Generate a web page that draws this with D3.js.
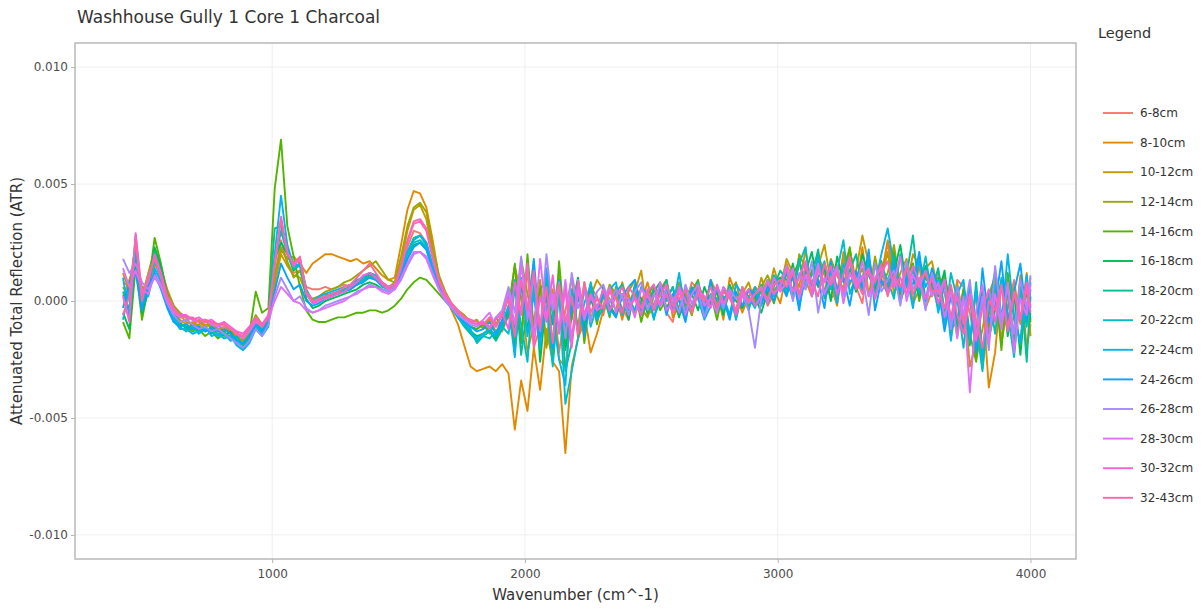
<!DOCTYPE html>
<html>
<head>
<meta charset="utf-8">
<script src="https://cdn.jsdelivr.net/npm/d3@7"></script>
<style>
  body { margin: 0; background: #fff; }
  text { font-family: "DejaVu Sans", Verdana, sans-serif; }
</style>
</head>
<body>
<svg id="chart"></svg>
<script>
// wavenumber grid (cm^-1) shared by every spectrum
const wavenumbers = [410,435,460,485,510,535,560,585,610,635,
  660,685,710,735,760,785,810,835,860,885,
  910,935,960,985,1010,1035,1060,1085,1110,1135,
  1160,1185,1210,1235,1260,1285,1310,1335,1360,1385,
  1410,1435,1460,1485,1510,1535,1560,1585,1610,1635,
  1660,1685,1710,1735,1760,1785,1810,1835,1860,1885,1910,
  1935,1960,1985,2010,2035,2060,2085,2110,2135,2160,2185,2210,2235,2260,2285,
  2310,2335,2360,2385,2410,2435,2460,2485,2510,2535,2560,2585,2610,2635,2660,2685,2710,2735,2760,2785,2810,2835,2860,2885,2910,
  2935,2960,2985,3010,
  3035,3060,3085,3110,3135,3160,3185,3210,3235,3260,3285,3310,3335,3360,3385,3410,3435,3460,3485,3510,3535,3560,3585,3610,
  3635,3660,3685,3710,
  3735,3760,3785,3810,3835,
  3860,3885,3910,3935,3960,3985,4000];

const depths = ["6-8cm","8-10cm","10-12cm","12-14cm","14-16cm","16-18cm","18-20cm",
  "20-22cm","22-24cm","24-26cm","26-28cm","28-30cm","30-32cm","32-43cm"];

// ATR values, in units of 10^-3
const atr_6_8 = [0.8,0.6,2.0,0.3,1.0,1.8,1.1,0.2,-0.4,-0.7,
  -0.7,-0.8,-1.1,-0.9,-0.9,-1.2,-1.1,-1.3,-1.5,-1.6,
  -1.3,-0.9,-1.2,-0.8,1.0,2.6,1.6,1.2,1.3,0.6,
  0.5,0.5,0.6,0.5,0.6,0.7,0.6,0.8,1.0,1.1,
  0.9,0.7,0.6,0.8,1.4,2.3,3.0,2.9,2.5,1.5,
  0.7,0.2,-0.2,-0.6,-0.9,-1.1,-1.2,-1.0,-1.4,-0.9,-1.3,
  -0.6,-1.8,-0.2,1.2,-2.0,-1.1,0.8,0.3,-2.2,-0.4,1.0,-1.6,-0.9,0.6,0.2,
  -0.6,0.5,0.2,-0.3,-0.8,0.7,0.1,-0.4,0.6,0.3,-0.5,-0.9,0.4,-0.2,0.8,0.5,-0.6,0.1,-0.3,0.6,0.2,-0.7,0.4,-0.2,0.3,
  0.6,-0.2,0.3,0.8,
  1.6,0.9,0.2,1.4,0.5,1.8,1.1,0.1,0.4,2.0,1.2,0.6,-0.1,1.9,0.5,1.1,2.5,0.8,0.2,1.5,-0.2,1.7,1.0,0.6,
  1.2,0.3,-0.8,0.9,
  0.6,-0.5,-2.0,0.4,-1.5,
  0.8,-1.6,-0.3,0.9,-1.0,0.5,-0.6];

const atr_8_10 = [1.2,0.4,1.6,0.5,0.8,1.5,1.4,0.5,-0.2,-0.6,
  -0.9,-1.0,-0.8,-1.1,-1.0,-1.3,-1.2,-1.4,-1.6,-1.7,
  -1.4,-1.0,-1.3,-0.9,0.6,2.2,1.8,1.9,1.6,1.2,
  1.6,1.8,2.0,2.0,1.9,1.8,1.7,1.8,1.6,1.7,
  1.4,1.1,0.9,1.0,2.4,3.9,4.7,4.6,4.0,2.6,
  1.0,0.2,-0.4,-1.0,-1.9,-2.8,-3.0,-2.9,-2.8,-3.0,-2.7,
  -3.1,-5.5,-3.4,-4.7,-2.0,-3.8,-1.2,-2.6,-3.0,-6.5,-2.8,-1.6,-0.5,-2.2,-1.4,
  -0.4,0.6,0.2,-0.8,0.3,-0.5,-0.1,0.8,-0.3,0.5,0.9,-0.7,-0.2,0.3,-0.6,0.7,0.1,-0.2,0.4,-0.8,1.0,0.3,-0.5,0.2,0.6,
  0.3,0.9,0.5,-0.1,
  1.2,0.4,1.7,0.9,0.2,1.9,1.3,0.7,-0.2,2.1,1.6,0.5,2.3,0.3,0.8,1.0,2.6,1.4,0.1,0.6,2.0,1.5,-0.3,0.4,
  0.7,1.1,-1.2,-0.9,
  0.5,-2.8,-1.8,0.2,-3.7,
  -2.2,0.8,0.1,-1.5,1.1,-2.0,-1.0];

const atr_10_12 = [0.2,0.9,1.8,0.6,0.5,1.9,1.0,0.1,-0.5,-0.8,
  -1.0,-0.9,-1.2,-1.0,-1.1,-1.0,-1.3,-1.2,-1.6,-1.5,
  -1.1,-0.7,-1.2,-0.9,0.8,2.0,1.5,1.1,1.0,0.3,
  0.1,0.2,0.3,0.2,0.4,0.5,0.5,0.7,0.9,1.2,
  1.1,0.8,0.6,0.7,1.6,3.0,3.9,4.1,3.5,2.0,
  0.9,0.3,-0.2,-0.5,-0.7,-0.9,-1.0,-1.1,-0.8,-1.3,-0.9,
  -0.3,1.5,0.2,-2.2,-1.0,0.9,-1.8,0.5,-2.5,-2.8,-0.6,0.7,-1.4,0.2,0.9,
  0.5,0.1,-0.4,0.8,-0.2,0.4,1.3,-0.6,-0.3,0.6,0.2,-0.5,0.7,-0.8,0.5,0.1,-0.4,0.9,0.3,-0.3,0.6,-0.7,0.3,0.8,-0.1,
  1.0,0.2,1.4,0.5,
  1.8,1.2,0.6,2.2,0.3,1.5,2.4,0.8,0.2,1.9,0.7,1.3,2.8,1.6,0.4,0.9,2.1,0.3,1.2,1.8,-0.1,0.5,1.4,1.7,
  0.4,1.1,-1.4,0.8,
  -0.9,0.7,-2.5,-1.2,0.3,
  1.0,-1.8,-0.2,0.6,-0.9,1.2,-1.5];

const atr_12_14 = [0.6,0.1,2.4,0.2,1.2,2.2,1.3,0.4,-0.2,-0.5,
  -0.7,-1.1,-1.0,-0.8,-1.2,-1.1,-0.9,-1.4,-1.3,-1.7,
  -1.2,-0.6,-1.0,-0.7,1.1,2.3,1.7,1.0,1.3,0.4,
  0.0,0.2,0.4,0.5,0.6,0.8,0.9,1.1,1.3,1.5,
  1.7,1.3,0.9,0.8,1.9,3.2,4.0,4.2,3.8,2.3,
  1.1,0.4,-0.1,-0.4,-0.6,-0.9,-0.8,-1.2,-0.7,-1.0,-0.6,
  0.2,-1.6,1.8,0.3,-0.9,0.6,-2.0,-0.5,1.1,-1.7,0.3,-1.1,0.8,-0.7,-0.3,
  -0.2,0.7,0.3,-0.5,0.4,0.9,-0.3,-0.7,0.2,0.6,0.3,-0.4,0.8,0.1,-0.6,0.5,-0.2,0.7,0.0,-0.5,0.4,0.8,-0.3,0.5,0.1,
  0.6,1.1,0.4,0.9,
  1.3,0.2,2.0,1.4,0.7,1.5,0.3,1.8,1.1,0.5,2.2,0.8,1.4,0.2,1.9,0.6,1.2,2.4,0.5,1.0,1.6,0.3,1.3,0.7,
  -0.3,0.9,0.2,-1.0,
  0.5,-1.7,0.4,-2.9,-0.6,
  0.9,-1.1,0.5,-2.0,0.8,-0.7,1.0];

const atr_14_16 = [-0.9,-1.6,1.5,-0.8,0.6,2.7,1.6,0.3,-0.6,-1.0,
  -1.1,-1.3,-1.2,-1.5,-1.3,-1.6,-1.4,-1.5,-1.8,-2.0,
  -1.4,0.4,-0.5,-0.3,4.8,6.9,3.2,1.9,0.6,-0.4,
  -0.8,-0.9,-0.9,-0.8,-0.7,-0.7,-0.6,-0.5,-0.5,-0.4,
  -0.4,-0.5,-0.4,-0.2,0.1,0.5,0.8,1.0,0.9,0.6,
  0.3,0.0,-0.3,-0.6,-0.9,-1.1,-1.2,-1.0,-1.3,-0.7,-1.1,
  -0.5,1.6,-1.8,2.0,-1.2,0.5,0.9,-2.4,1.7,-1.4,-0.8,0.9,-1.8,0.4,-1.0,
  0.3,-0.7,0.6,0.2,-0.3,0.5,-0.9,0.2,0.7,-0.4,0.1,0.6,-0.6,-0.2,0.4,0.9,-0.5,0.3,-0.8,0.5,0.2,-0.4,0.6,-0.2,0.4,
  0.0,0.7,-0.1,0.9,
  0.3,1.1,1.7,0.5,1.3,2.0,0.1,0.7,1.5,1.2,2.3,0.4,1.0,1.8,0.2,1.4,0.6,2.1,0.3,1.1,1.6,0.0,1.3,0.8,
  1.0,-0.6,0.6,-1.5,
  0.5,-1.4,-2.6,0.3,-1.1,
  0.6,-2.1,1.2,-0.8,-1.7,0.7,-0.9];

const atr_16_18 = [-0.5,-1.2,1.8,-0.5,0.4,2.3,1.5,0.2,-0.5,-0.9,
  -1.2,-1.0,-1.3,-1.1,-1.4,-1.2,-1.5,-1.3,-1.7,-1.8,
  -1.5,-0.9,-1.3,-0.8,1.8,2.5,2.0,1.3,1.6,0.1,
  -0.3,-0.2,0.0,0.1,0.2,0.3,0.4,0.5,0.7,0.8,
  0.7,0.5,0.4,0.5,1.0,1.8,2.4,2.5,2.2,1.4,
  0.7,0.2,-0.2,-0.6,-1.0,-1.3,-1.5,-1.4,-1.2,-1.6,-1.0,
  -0.4,-2.0,0.8,-1.3,1.4,-2.6,0.2,-1.0,0.9,-2.1,-0.3,1.0,-1.2,0.1,-0.7,
  0.6,-0.2,-0.6,0.3,-0.8,0.5,0.1,-0.5,0.4,0.8,-0.3,0.2,-0.7,0.5,0.3,-0.4,0.6,-0.1,0.4,-0.6,0.7,0.0,-0.3,0.5,0.2,
  -0.5,0.4,0.8,1.0,
  0.5,1.6,0.2,1.2,2.1,0.6,1.4,0.0,1.9,0.8,1.3,0.4,2.0,1.1,0.5,1.7,0.3,1.2,2.4,0.6,1.0,0.2,1.5,0.7,
  0.2,1.3,-0.9,0.4,
  -1.3,0.2,-2.2,0.6,-1.6,
  -0.4,0.9,-1.5,0.3,-2.3,0.6,-0.8];

const atr_18_20 = [0.4,-0.4,2.8,0.1,0.7,2.1,1.2,0.0,-0.6,-1.0,
  -1.1,-1.2,-1.1,-1.3,-1.2,-1.4,-1.3,-1.6,-1.5,-1.9,
  -1.6,-1.0,-1.2,-0.7,3.1,3.2,2.2,1.6,1.8,0.5,
  0.0,0.1,0.2,0.3,0.4,0.5,0.6,0.8,0.9,1.1,
  1.0,0.7,0.5,0.6,1.3,2.1,2.7,2.8,2.4,1.5,
  0.8,0.2,-0.2,-0.7,-1.1,-1.4,-1.7,-1.5,-1.3,-1.7,-1.2,
  -0.6,0.9,-2.3,-0.2,0.4,-1.5,1.2,-2.0,0.6,-3.0,-1.8,0.2,-0.9,0.8,-0.4,
  0.3,-0.5,0.4,0.7,-0.3,0.2,-0.6,-0.1,0.5,0.3,0.9,-0.4,0.1,-0.7,0.6,0.2,-0.3,0.8,-0.5,0.1,0.4,-0.6,0.5,0.0,-0.2,
  0.7,-0.1,0.6,1.3,
  0.9,0.1,1.8,0.6,1.1,2.2,0.3,0.7,1.5,0.2,1.3,2.0,0.5,1.6,0.1,1.2,0.8,1.9,0.4,1.1,2.8,0.3,1.0,0.5,
  1.4,-0.4,0.5,-1.1,
  0.3,-1.9,0.8,-2.4,-0.2,
  1.3,-0.6,0.4,-1.9,0.9,-2.6,0.2];

const atr_20_22 = [-0.8,0.5,2.5,-0.3,0.9,1.7,0.9,-0.1,-0.7,-1.1,
  -1.3,-1.1,-1.4,-1.2,-1.3,-1.5,-1.4,-1.7,-1.6,-2.0,
  -1.7,-1.1,-1.4,-1.0,1.6,3.0,2.0,1.4,1.5,0.3,
  -0.1,0.0,0.2,0.3,0.3,0.5,0.6,0.7,0.9,1.0,
  0.9,0.6,0.5,0.6,1.2,2.0,2.5,2.6,2.3,1.4,
  0.7,0.1,-0.3,-0.7,-1.0,-1.2,-1.8,-1.5,-1.6,-1.3,-1.1,
  -1.4,0.5,-1.0,-2.6,0.9,-1.7,-0.2,-2.8,0.4,-4.4,-3.0,-1.6,0.6,-1.1,-0.2,
  0.2,-0.6,0.5,0.1,-0.4,0.7,-0.2,0.3,-0.8,0.5,0.0,0.6,-0.5,0.2,-0.3,0.8,-0.6,0.3,0.1,-0.4,0.6,-0.8,0.4,0.2,-0.3,
  0.5,0.0,1.1,0.6,
  1.2,0.4,1.6,2.3,0.2,1.0,1.7,0.5,1.3,2.6,0.3,1.1,0.7,1.8,0.2,1.5,0.9,0.1,2.0,0.6,1.3,0.4,1.9,0.2,
  0.9,-1.0,1.2,0.1,
  -2.0,0.6,-1.0,-3.0,0.4,
  -1.4,1.0,-0.5,-2.4,0.5,-1.1,0.8];

const atr_22_24 = [1.0,-0.7,2.1,0.4,0.2,1.4,0.8,-0.2,-0.8,-1.2,
  -1.2,-1.4,-1.3,-1.1,-1.5,-1.4,-1.6,-1.5,-1.9,-2.1,
  -1.8,-1.2,-1.5,-1.1,2.0,4.5,2.4,1.5,1.6,0.4,
  0.0,0.2,0.3,0.4,0.5,0.6,0.7,0.9,1.0,1.2,
  1.1,0.8,0.6,0.7,1.3,2.1,2.6,2.8,2.5,1.5,
  0.6,0.1,-0.3,-0.7,-1.0,-1.3,-1.6,-1.4,-1.2,-1.5,-1.0,
  -0.2,-2.4,1.0,-1.5,0.3,-2.0,1.4,-0.6,-2.5,-3.6,0.5,-1.3,-0.1,0.7,-0.8,
  -0.3,0.5,0.8,-0.6,0.1,-0.4,0.6,0.3,-0.7,0.0,0.5,-0.3,1.2,-0.5,0.4,0.1,-0.8,-0.2,0.5,0.2,-0.6,0.7,0.3,-0.4,0.6,
  -0.1,0.7,0.2,0.9,
  0.3,1.4,-0.2,1.0,0.6,1.9,0.2,1.3,-0.1,1.6,0.8,1.2,0.4,1.2,0.7,2.0,3.1,1.5,0.5,1.1,-0.3,1.8,0.6,1.2,
  -0.5,0.8,-1.7,0.3,
  0.9,-1.6,0.5,-2.5,-0.4,
  0.7,-1.0,2.0,-0.6,-1.8,1.1,-0.3];

const atr_24_26 = [-0.3,0.8,1.2,-0.4,0.6,1.2,0.5,-0.3,-0.9,-1.1,
  -1.0,-1.2,-1.1,-1.3,-1.1,-1.3,-1.2,-1.4,-1.7,-1.8,
  -1.5,-1.0,-1.3,-0.9,0.4,1.6,1.0,0.5,0.7,0.0,
  -0.2,-0.1,0.1,0.2,0.3,0.4,0.5,0.7,0.8,1.0,
  0.9,0.7,0.5,0.6,1.1,1.8,2.3,2.5,2.2,1.3,
  0.6,0.1,-0.3,-0.6,-0.9,-1.1,-1.3,-1.2,-0.9,-1.4,-0.8,
  0.3,-1.3,0.7,-0.7,1.8,-1.5,0.4,-2.0,0.9,-1.1,-0.4,0.6,-1.5,0.2,-0.5,
  0.4,-0.3,-0.7,0.2,0.6,0.9,-0.5,0.1,-0.2,0.7,-0.6,0.3,0.0,-0.9,0.5,0.2,-0.4,0.9,-0.3,0.1,-0.8,0.4,-0.2,0.5,0.3,
  -0.2,0.6,0.0,0.8,
  0.2,1.1,-0.4,1.5,0.4,0.9,-0.3,1.7,0.5,1.0,-0.2,1.3,0.6,2.2,-0.4,0.9,0.3,1.6,-0.1,1.0,0.7,2.1,0.0,1.4,
  0.6,-1.3,0.2,-0.7,
  -1.2,0.4,-2.2,1.4,-0.9,
  -0.2,1.7,-0.9,0.4,1.6,-0.8,0.5];

const atr_26_28 = [1.8,1.2,1.6,0.8,0.5,1.0,0.6,-0.1,-0.6,-0.9,
  -0.8,-1.0,-1.2,-1.1,-1.3,-1.2,-1.4,-1.6,-1.8,-2.0,
  -1.7,-1.2,-1.5,-1.0,0.2,1.0,0.5,0.0,0.2,-0.3,
  -0.5,-0.4,-0.2,-0.1,0.0,0.1,0.2,0.4,0.5,0.7,
  0.6,0.5,0.4,0.5,0.9,1.5,2.0,2.1,1.9,1.2,
  0.5,0.0,-0.3,-0.6,-0.8,-1.0,-1.1,-0.9,-1.2,-0.7,-0.4,
  0.6,-0.5,1.9,-0.8,1.1,-1.3,2.0,-0.4,0.8,-1.6,1.2,-0.3,0.5,-0.9,0.4,
  0.7,-0.1,0.5,0.2,-0.6,0.4,0.8,-0.4,0.3,-0.2,0.6,0.1,-0.5,0.7,-0.1,0.4,-0.7,0.2,0.6,-0.3,0.5,0.1,0.3,-0.4,-2.0,
  0.1,0.9,0.3,0.7,
  1.5,0.0,1.2,0.5,1.7,-0.5,1.0,0.7,1.4,0.2,1.8,0.6,1.1,-0.6,1.6,0.4,0.9,1.3,-0.2,1.7,0.5,1.0,-0.4,1.2,
  0.3,0.9,-1.2,0.6,
  -0.6,0.9,-1.5,0.2,-2.1,
  1.5,-0.8,0.6,-1.4,0.9,-0.3,1.1];

const atr_28_30 = [1.4,0.6,1.3,0.5,0.3,1.1,0.7,0.0,-0.5,-0.7,
  -0.7,-0.8,-0.9,-0.8,-1.0,-1.1,-1.0,-1.2,-1.4,-1.6,
  -1.3,-0.9,-1.1,-0.7,0.0,0.6,0.3,0.0,-0.1,-0.4,
  -0.5,-0.4,-0.3,-0.2,-0.1,0.0,0.2,0.3,0.5,0.6,
  0.6,0.4,0.3,0.5,1.0,1.6,2.1,2.1,1.8,1.1,
  0.5,0.1,-0.2,-0.5,-0.7,-0.9,-1.0,-0.8,-0.5,-1.1,-0.6,
  0.4,-1.0,1.5,-0.2,-1.4,1.8,-0.7,0.3,-1.2,0.9,-1.6,0.5,-0.8,0.2,-0.4,
  -0.2,0.6,-0.5,0.3,0.1,-0.7,0.5,0.2,-0.3,0.8,-0.4,0.0,0.5,-0.6,0.3,0.7,-0.2,0.1,-0.5,0.6,0.2,-0.4,0.4,-0.1,0.3,
  0.6,-0.1,1.0,0.4,
  0.8,1.4,0.1,1.1,0.5,1.6,0.3,0.9,1.5,-0.1,1.2,0.6,1.7,0.2,1.0,1.4,0.4,0.8,1.9,0.0,1.1,0.6,1.3,0.2,
  0.8,-0.7,0.4,-1.6,
  0.2,-3.9,-0.4,0.7,-1.8,
  0.3,-1.2,0.8,-2.2,0.1,-0.6,0.7];

const atr_30_32 = [0.2,-0.9,2.9,0.3,0.8,2.0,1.2,0.2,-0.3,-0.6,
  -0.6,-0.8,-0.7,-0.9,-0.8,-1.0,-0.9,-1.1,-1.3,-1.4,
  -1.1,-0.7,-1.0,-0.6,1.6,3.6,2.1,1.5,1.8,0.3,
  -0.1,0.0,0.1,0.2,0.3,0.4,0.6,0.8,1.1,1.2,
  1.0,0.7,0.5,0.6,1.4,2.5,3.3,3.4,3.0,1.8,
  0.8,0.2,-0.2,-0.5,-0.7,-0.9,-1.0,-0.9,-1.1,-0.8,-0.5,
  -1.2,0.8,-0.6,1.6,-1.9,0.2,-0.9,1.1,-1.4,0.5,-2.0,0.9,-0.6,0.3,-0.3,
  0.5,-0.4,0.2,0.6,-0.3,0.1,-0.6,0.4,0.7,-0.2,0.3,-0.5,0.6,0.0,-0.4,0.5,0.2,-0.3,0.7,-0.1,0.4,-0.6,0.2,0.5,-0.2,
  0.2,0.8,0.3,0.6,
  1.4,0.4,1.0,1.7,0.2,1.3,0.8,1.5,0.3,1.1,1.9,0.5,1.0,1.4,0.1,1.2,1.7,0.6,1.0,0.3,1.5,0.8,0.1,1.0,
  -0.1,0.9,-0.8,0.2,
  -1.0,0.3,-1.7,-0.3,0.5,
  -0.9,0.6,-1.3,0.4,-0.7,0.8,-0.5];

const atr_32_43 = [-0.6,0.2,2.6,0.0,1.1,1.8,1.0,0.1,-0.4,-0.6,
  -0.7,-0.7,-0.9,-0.8,-0.9,-1.0,-1.0,-1.2,-1.4,-1.5,
  -1.2,-0.8,-1.1,-0.7,1.5,3.5,2.0,1.6,1.9,0.4,
  0.0,0.1,0.2,0.3,0.4,0.6,0.7,1.0,1.3,1.6,
  1.2,0.8,0.6,0.7,1.5,2.6,3.4,3.5,3.1,1.9,
  0.9,0.3,-0.1,-0.4,-0.7,-0.8,-0.9,-1.0,-0.7,-1.1,-0.6,
  0.1,-1.5,0.9,-0.4,1.3,-1.2,0.6,-1.8,0.7,-0.9,0.2,-1.4,0.8,-0.5,0.1,
  -0.3,0.4,0.1,-0.5,0.6,0.2,-0.3,0.5,-0.4,0.3,0.7,-0.2,0.1,0.5,-0.5,0.3,0.0,0.6,-0.3,0.4,0.1,-0.4,0.6,0.0,0.3,
  0.5,0.1,0.7,0.9,
  0.6,1.2,0.3,1.5,0.8,0.2,1.6,0.7,1.2,0.4,1.8,0.9,0.3,1.3,0.8,1.6,0.2,1.1,0.6,1.4,0.3,0.9,1.2,0.4,
  0.5,-0.3,0.7,-0.6,
  -1.4,0.1,-0.8,-2.0,0.0,
  -0.4,0.7,-1.2,0.3,-0.8,0.5,-0.2];

const spectra = [atr_6_8, atr_8_10, atr_10_12, atr_12_14, atr_14_16, atr_16_18, atr_18_20,
  atr_20_22, atr_22_24, atr_24_26, atr_26_28, atr_28_30, atr_30_32, atr_32_43];

const xTicks = [1000, 2000, 3000, 4000];
const yTicks = [-0.010, -0.005, 0.000, 0.005, 0.010];

// ggplot default hue palette, 14 levels
const colors = ["#F8766D","#E38900","#C49A00","#99A800","#53B400","#00BC56","#00C094",
  "#00BFC4","#00B6EB","#06A4FF","#A58AFF","#DF70F8","#FB61D7","#FF66A8"];

const width = 1203, height = 610;
const margin = {top: 43, right: 127, bottom: 51, left: 75};
const plotW = width - margin.left - margin.right,
      plotH = height - margin.top - margin.bottom;

const svg = d3.select("#chart").attr("width", width).attr("height", height);
svg.append("rect").attr("width", width).attr("height", height).attr("fill", "#fff");

const x = d3.scaleLinear().domain([220, 4180]).range([margin.left, margin.left + plotW]);
const y = d3.scaleLinear().domain([-0.01103, 0.01103]).range([margin.top + plotH, margin.top]);

// gridlines
const grid = svg.append("g");
grid.selectAll(".gx").data(xTicks).enter().append("line")
  .attr("x1", d => x(d)).attr("x2", d => x(d))
  .attr("y1", margin.top).attr("y2", margin.top + plotH)
  .attr("stroke", "#efefef").attr("stroke-width", 1);
grid.selectAll(".gy").data(yTicks).enter().append("line")
  .attr("x1", margin.left).attr("x2", margin.left + plotW)
  .attr("y1", d => y(d)).attr("y2", d => y(d))
  .attr("stroke", "#efefef").attr("stroke-width", 1);

svg.append("clipPath").attr("id", "clip").append("rect")
  .attr("x", margin.left).attr("y", margin.top).attr("width", plotW).attr("height", plotH);

const line = d3.line()
  .x(d => x(d[0]))
  .y(d => y(d[1] * 1e-3));

svg.append("g").attr("clip-path", "url(#clip)")
  .selectAll("path").data(spectra).enter().append("path")
  .attr("d", s => line(wavenumbers.map((w, i) => [w, s[i]]).filter(p => p[1] != null)))
  .attr("fill", "none")
  .attr("stroke", (s, i) => colors[i])
  .attr("stroke-width", 1.9)
  .attr("stroke-linejoin", "round");

// panel border
svg.append("rect")
  .attr("x", margin.left).attr("y", margin.top).attr("width", plotW).attr("height", plotH)
  .attr("fill", "none").attr("stroke", "#b8b8b8").attr("stroke-width", 1.5);

// axes
const xAxis = svg.append("g")
  .attr("transform", "translate(0," + (margin.top + plotH) + ")")
  .call(d3.axisBottom(x).tickValues(xTicks).tickSize(4).tickPadding(6).tickFormat(d3.format("d")));
const yAxis = svg.append("g")
  .attr("transform", "translate(" + margin.left + ",0)")
  .call(d3.axisLeft(y).tickValues(yTicks).tickSize(4).tickPadding(3).tickFormat(d => d.toFixed(3)));
[xAxis, yAxis].forEach(a => {
  a.select(".domain").remove();
  a.selectAll(".tick line").attr("stroke", "#b3b3b3");
  a.selectAll(".tick text").attr("fill", "#4d4d4d").style("font-size", "12px")
    .style("font-family", '"DejaVu Sans", Verdana, sans-serif');
});

// titles
svg.append("text").attr("x", 77).attr("y", 23)
  .attr("fill", "#333").style("font-size", "17px")
  .text("Washhouse Gully 1 Core 1 Charcoal");
svg.append("text").attr("x", margin.left + plotW / 2).attr("y", 600)
  .attr("text-anchor", "middle").attr("fill", "#333").style("font-size", "15px")
  .text("Wavenumber (cm^-1)");
svg.append("text")
  .attr("transform", "translate(22," + (margin.top + plotH / 2) + ") rotate(-90)")
  .attr("text-anchor", "middle").attr("fill", "#333").style("font-size", "15px")
  .text("Attenuated Total Reflection (ATR)");

// legend
const legend = svg.append("g");
legend.append("text").attr("x", 1098).attr("y", 38)
  .attr("fill", "#333").style("font-size", "14.5px").text("Legend");
const item = legend.selectAll(".item").data(depths).enter().append("g")
  .attr("transform", (d, i) => "translate(1103," + (113 + i * 29.6) + ")");
item.append("line").attr("x1", 0).attr("x2", 30)
  .attr("stroke", (d, i) => colors[i]).attr("stroke-width", 1.9);
item.append("text").attr("x", 37).attr("dy", "0.35em")
  .attr("fill", "#333").style("font-size", "12px").text(d => d);
</script>
</body>
</html>
